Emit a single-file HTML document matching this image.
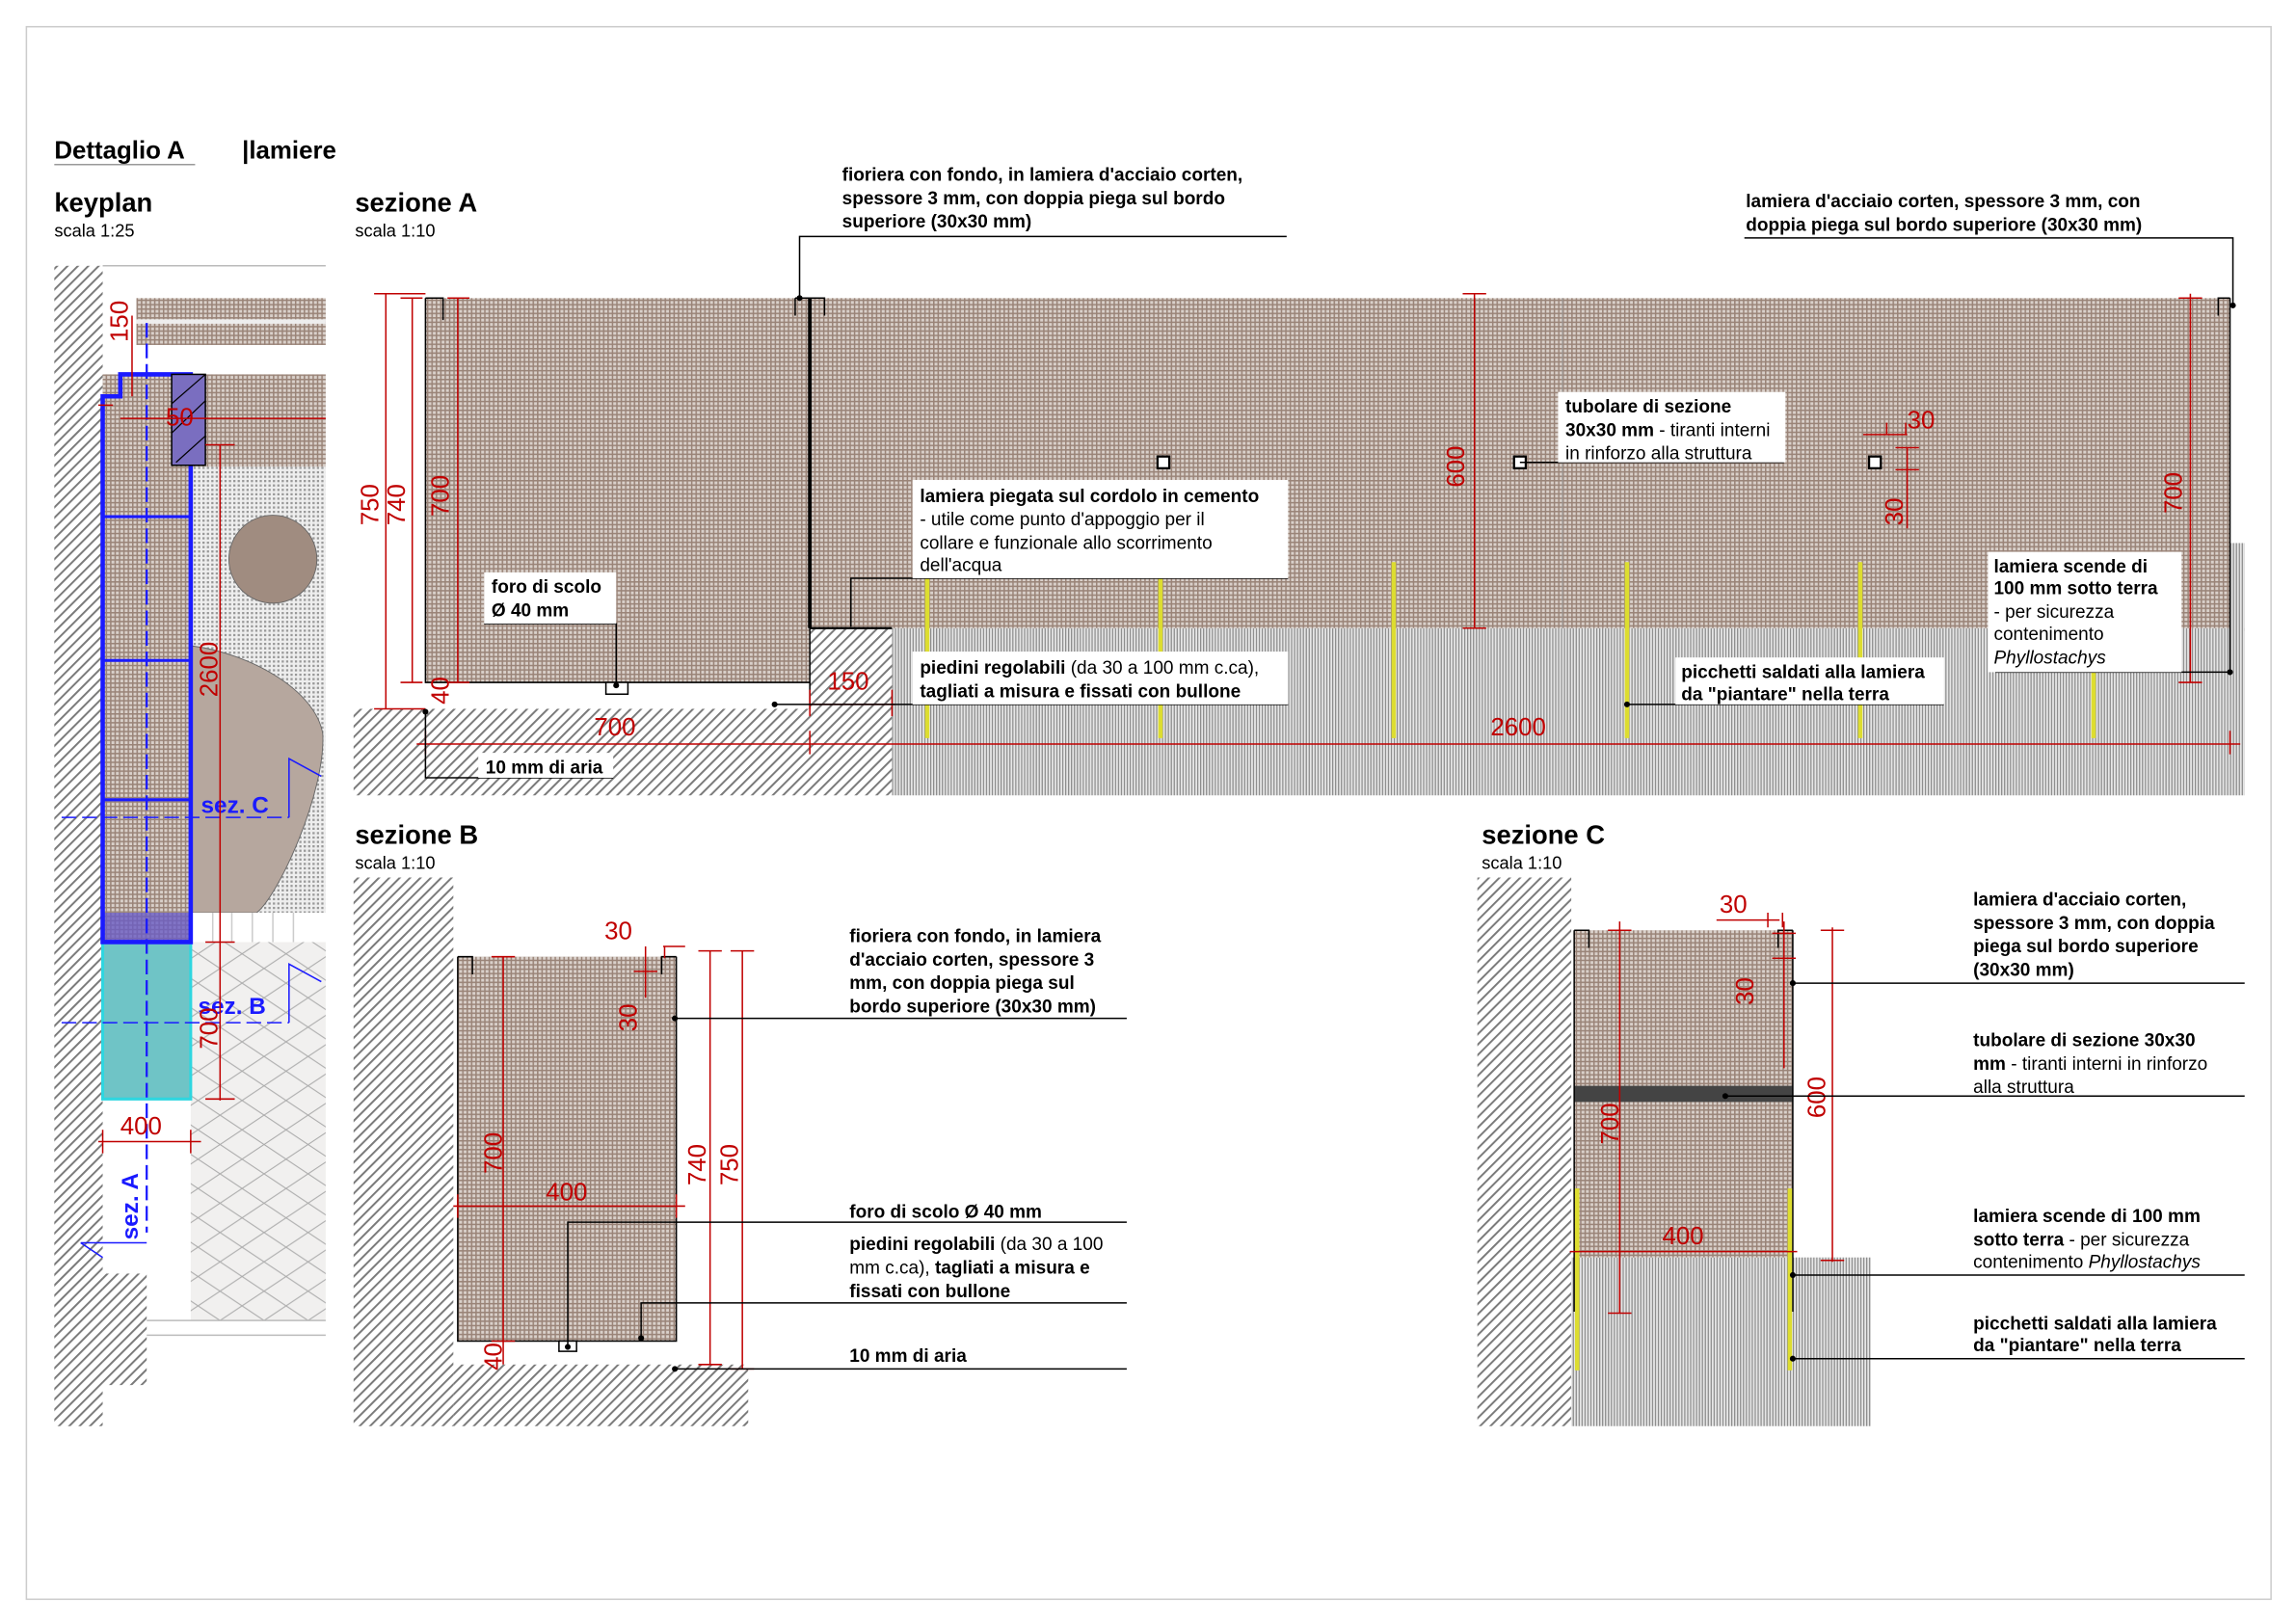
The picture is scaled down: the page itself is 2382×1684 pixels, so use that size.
<!DOCTYPE html>
<html><head><meta charset="utf-8"><style>
html,body{margin:0;padding:0;background:#fff}
svg{display:block}
text{font-family:"Liberation Sans Narrow","Liberation Sans",sans-serif}
.l{font-size:12.5px;fill:#000}
.b{font-weight:bold}
.d{font-family:"Liberation Sans",sans-serif;font-size:17px;fill:#c00000}
.h{font-family:"Liberation Sans",sans-serif;font-size:18px;font-weight:bold}
.s{font-size:12px}
.r{stroke:#c00000;stroke-width:1;fill:none}
.k{stroke:#000;stroke-width:1;fill:none}
</style></head><body>
<svg width="2382" height="1684" viewBox="0 0 1565 1106" xmlns="http://www.w3.org/2000/svg">
<defs>
<pattern id="ct" width="3" height="3" patternUnits="userSpaceOnUse"><rect width="3" height="3" fill="#d9d0ca"/><rect width="3" height="1" fill="#9a8478"/><rect width="1" height="3" fill="#9a8478"/></pattern>
<pattern id="gs" width="2" height="4" patternUnits="userSpaceOnUse"><rect width="2" height="4" fill="#e6e6e6"/><rect width="0.8" height="4" fill="#8a8a8a"/></pattern>
<pattern id="ht" width="5" height="5" patternUnits="userSpaceOnUse" patternTransform="rotate(45)"><rect width="5" height="5" fill="#fff"/><rect width="1.3" height="5" fill="#7a7a7a"/></pattern>
<pattern id="dt" width="3" height="3" patternUnits="userSpaceOnUse"><rect width="3" height="3" fill="#eee"/><rect width="1.5" height="1.5" fill="#999"/></pattern>
<pattern id="tl" width="30" height="20" patternUnits="userSpaceOnUse"><rect width="30" height="20" fill="#f1f0ef"/><path d="M0 0L30 20M30 0L0 20" stroke="#aaa" stroke-width="0.7"/></pattern>
</defs>
<rect x="18" y="18" width="1530" height="1072" fill="none" stroke="#ccc"/>

<text x="37" y="108" class="h" style="font-size:17px">Dettaglio A</text>
<line x1="37" y1="112" x2="133" y2="112" stroke="#999"/>
<text x="165" y="108" class="h" style="font-size:17px">|lamiere</text>
<text x="37" y="144" class="h">keyplan</text><text x="37" y="161" class="l s">scala 1:25</text>
<text x="242" y="144" class="h">sezione A</text><text x="242" y="161" class="l s">scala 1:10</text>
<text x="242" y="575" class="h">sezione B</text><text x="242" y="592" class="l s">scala 1:10</text>
<text x="1010" y="575" class="h">sezione C</text><text x="1010" y="592" class="l s">scala 1:10</text>

<!-- KEYPLAN -->
<rect x="37" y="181" width="33" height="791" fill="url(#ht)"/>
<rect x="70" y="868" width="30" height="76" fill="url(#ht)"/>
<line x1="70" y1="181" x2="222" y2="181" stroke="#bbb"/>
<rect x="93" y="203" width="129" height="32" fill="url(#ct)"/>
<line x1="93" y1="219" x2="222" y2="219" stroke="#eee" stroke-width="3"/>
<rect x="130" y="255" width="92" height="63" fill="url(#ct)"/>
<rect x="130" y="318" width="92" height="304" fill="url(#dt)"/>
<path d="M130 440 C170 445 215 470 220 500 C222 540 190 610 175 622 L130 622Z" fill="#b6a79e" stroke="#666" stroke-width="0.6"/>
<ellipse cx="186" cy="381" rx="30" ry="30" fill="#a08c80" stroke="#666" stroke-width="0.6"/>
<rect x="130" y="642" width="92" height="258" fill="url(#tl)"/>
<rect x="130" y="622" width="92" height="20" fill="#fff"/>
<path d="M145 622v20M158 622v20M172 622v20M186 622v20M200 622v20" stroke="#ccc"/>
<line x1="100" y1="900" x2="222" y2="900" stroke="#bbb"/><line x1="100" y1="910" x2="222" y2="910" stroke="#bbb"/>
<rect x="70" y="255" width="60" height="387" fill="url(#ct)"/>
<rect x="70" y="622" width="60" height="20" fill="#6a5cc4" opacity="0.8"/>
<rect x="70" y="642" width="60" height="107" fill="#6fc4c6"/>
<path d="M70 642h60v107h-60z" fill="none" stroke="#2fd6e0" stroke-width="2"/>
<path d="M70 270h12v-15h48v387h-60z" fill="none" stroke="#1a1aff" stroke-width="3"/>
<path d="M70 352h60M70 450h60M70 545h60" stroke="#1a1aff" stroke-width="2"/>
<rect x="117" y="255" width="23" height="62" fill="#7a6ec0" stroke="#000"/>
<path d="M117 275l23-20M117 295l23-22M120 315l20-18" stroke="#000" stroke-width="0.8"/>
<line x1="100" y1="220" x2="100" y2="840" stroke="#1a1aff" stroke-width="1.5" stroke-dasharray="10 4"/>
<line x1="42" y1="557" x2="197" y2="557" stroke="#1a1aff" stroke-width="1" stroke-dasharray="10 4"/>
<line x1="42" y1="697" x2="197" y2="697" stroke="#1a1aff" stroke-width="1" stroke-dasharray="10 4"/>
<path d="M197 557v-40l22 12M197 697v-40l22 12M55 847h45M55 847l15 10" stroke="#1a1aff" fill="none"/>
<text x="137" y="554" fill="#1a1aff" font-weight="bold" font-size="16" style="font-family:'Liberation Sans',sans-serif">sez. C</text>
<text x="135" y="691" fill="#1a1aff" font-weight="bold" font-size="16" style="font-family:'Liberation Sans',sans-serif">sez. B</text>
<text transform="translate(94,845) rotate(-90)" fill="#1a1aff" font-weight="bold" font-size="16" style="font-family:'Liberation Sans',sans-serif">sez. A</text>
<path d="M150 303v447M140 303h20M140 642h20M140 749h20M90 270v-55M82 285h140M67 276h10M67 778h70M70 770v16M130 770v16" class="r"/>
<text transform="translate(87,233) rotate(-90)" class="d">150</text>
<text transform="translate(148,475) rotate(-90)" class="d">2600</text>
<text transform="translate(148,715) rotate(-90)" class="d">700</text>
<text x="82" y="773" class="d">400</text>
<text x="113" y="290" class="d">50</text>

<!-- SEZIONE A -->
<rect x="241" y="483" width="367" height="59" fill="url(#ht)"/>
<rect x="608" y="428" width="922" height="114" fill="url(#gs)"/>
<rect x="1520" y="370" width="10" height="60" fill="url(#gs)"/>
<rect x="290" y="203" width="262" height="262" fill="url(#ct)"/>
<rect x="552" y="203" width="968" height="225" fill="url(#ct)"/>
<rect x="552" y="428" width="56" height="55" fill="url(#ht)"/>
<line x1="1065" y1="203" x2="1065" y2="428" stroke="#999" stroke-width="0.6"/>
<path d="M290 203v262h262M552 203v280M290 203h12v15M1520 203v257M1520 203h-8v12M542 203h20v12M542 203v12" class="k" stroke-width="1.5"/>
<line x1="552" y1="203" x2="552" y2="428" stroke="#000" stroke-width="2.5"/>
<line x1="552" y1="428" x2="608" y2="428" stroke="#000" stroke-width="1.5"/>
<rect x="413" y="465" width="15" height="8" fill="#fff" stroke="#000"/>
<g stroke="#dddd30" stroke-width="3"><line x1="632" y1="383" x2="632" y2="503"/><line x1="791" y1="383" x2="791" y2="503"/><line x1="950" y1="383" x2="950" y2="503"/><line x1="1109" y1="383" x2="1109" y2="503"/><line x1="1268" y1="383" x2="1268" y2="503"/><line x1="1427" y1="383" x2="1427" y2="503"/></g>
<g fill="#fff" stroke="#000" stroke-width="1.5"><rect x="789" y="311" width="8" height="8"/><rect x="1032" y="311" width="8" height="8"/><rect x="1274" y="311" width="8" height="8"/></g>
<path d="M263 200v283M255 200h35M255 483h35M281 203v262M273 203h15M273 465h15M312 203v262M305 203h15M305 465h15M284 507h1243M290 498v16M552 498v16M1520 498v16M552 480h58M552 470v18M608 470v18M1005 200v228M997 200h16M997 428h16M1493 200v265M1485 203h16M1485 465h16M1270 296h30M1286 288v8M1299 288v8M1300 305v55M1292 305h16M1292 320h16" class="r"/>
<text transform="translate(258,358) rotate(-90)" class="d">750</text>
<text transform="translate(276,358) rotate(-90)" class="d">740</text>
<text transform="translate(306,352) rotate(-90)" class="d">700</text>
<text transform="translate(306,480) rotate(-90)" class="d">40</text>
<text transform="translate(998,332) rotate(-90)" class="d">600</text>
<text transform="translate(1487,350) rotate(-90)" class="d">700</text>
<text transform="translate(1297,358) rotate(-90)" class="d">30</text>
<text x="1300" y="292" class="d">30</text>
<text x="405" y="501" class="d">700</text>
<text x="1016" y="501" class="d">2600</text>
<text x="564" y="470" class="d">150</text>

<!-- labels A -->
<path d="M545 203v-42h332M1522 208v-46h-333M1216 315h-180M580 427v-33h298M420 467v-42h-90M528 480h350M290 485v45h128M1109 480h216M1520 458h-160" class="k"/>
<g fill="#000"><circle cx="545" cy="203" r="2"/><circle cx="1522" cy="208" r="2"/><circle cx="420" cy="467" r="2"/><circle cx="528" cy="480" r="2"/><circle cx="290" cy="485" r="2"/><circle cx="1109" cy="480" r="2"/><circle cx="1520" cy="458" r="2"/></g>
<g fill="#fff"><rect x="330" y="390" width="90" height="35"/><rect x="622" y="327" width="256" height="67"/><rect x="622" y="444" width="256" height="36"/><rect x="1062" y="267" width="155" height="48"/><rect x="1142" y="448" width="183" height="32"/><rect x="1355" y="376" width="132" height="82"/><rect x="326" y="513" width="92" height="17"/></g>
<text class="l b"><tspan x="574" y="123">fioriera con fondo, in lamiera d'acciaio corten,</tspan><tspan x="574" y="139">spessore 3 mm, con doppia piega sul bordo</tspan><tspan x="574" y="155">superiore (30x30 mm)</tspan></text>
<text class="l b"><tspan x="1190" y="141">lamiera d'acciaio corten, spessore 3 mm, con</tspan><tspan x="1190" y="157">doppia piega sul bordo superiore (30x30 mm)</tspan></text>
<text class="l"><tspan x="1067" y="281" font-weight="bold">tubolare di sezione</tspan><tspan x="1067" y="297"><tspan font-weight="bold">30x30 mm</tspan> - tiranti interni</tspan><tspan x="1067" y="313">in rinforzo alla struttura</tspan></text>
<text class="l"><tspan x="627" y="342" font-weight="bold">lamiera piegata sul cordolo in cemento</tspan><tspan x="627" y="358">- utile come punto d'appoggio per il</tspan><tspan x="627" y="374">collare e funzionale allo scorrimento</tspan><tspan x="627" y="389">dell'acqua</tspan></text>
<text class="l b"><tspan x="335" y="404">foro di scolo</tspan><tspan x="335" y="420">Ø 40 mm</tspan></text>
<text class="l"><tspan x="627" y="459"><tspan font-weight="bold">piedini regolabili</tspan> (da 30 a 100 mm c.ca),</tspan><tspan x="627" y="475" font-weight="bold">tagliati a misura e fissati con bullone</tspan></text>
<text class="l b"><tspan x="1146" y="462">picchetti saldati alla lamiera</tspan><tspan x="1146" y="477">da "piantare" nella terra</tspan></text>
<text class="l"><tspan x="1359" y="390" font-weight="bold">lamiera scende di</tspan><tspan x="1359" y="405" font-weight="bold">100 mm sotto terra</tspan><tspan x="1359" y="421">- per sicurezza</tspan><tspan x="1359" y="436">contenimento</tspan><tspan x="1359" y="452" font-style="italic">Phyllostachys</tspan></text>
<text x="331" y="527" class="l b">10 mm di aria</text>

<!-- SEZIONE B -->
<rect x="241" y="598" width="68" height="374" fill="url(#ht)"/>
<rect x="309" y="930" width="201" height="42" fill="url(#ht)"/>
<rect x="312" y="652" width="149" height="262" fill="url(#ct)"/>
<path d="M312 652v262h149V652M312 652h10v12M461 652h-10v12" class="k" stroke-width="1.5"/>
<rect x="381" y="914" width="12" height="7" fill="#fff" stroke="#000"/>
<path d="M343 652v262M335 652h16M335 914h16M309 822h158M312 814v16M461 814v16M452 645h15M440 645v8M453 645v8M440 652v28M432 662h16M484 648v282M476 648h16M476 930h16M506 648v285M498 648h16M498 933h16M343 914v16" class="r"/>
<text transform="translate(342,800) rotate(-90)" class="d">700</text>
<text transform="translate(434,703) rotate(-90)" class="d">30</text>
<text transform="translate(481,808) rotate(-90)" class="d">740</text>
<text transform="translate(503,808) rotate(-90)" class="d">750</text>
<text transform="translate(342,934) rotate(-90)" class="d">40</text>
<text x="372" y="818" class="d">400</text>
<text x="412" y="640" class="d">30</text>
<path d="M460 694h308M387 918v-85h381M437 912v-24h331M460 933h308" class="k"/>
<g fill="#000"><circle cx="460" cy="694" r="2"/><circle cx="387" cy="918" r="2"/><circle cx="437" cy="912" r="2"/><circle cx="460" cy="933" r="2"/></g>
<text class="l b"><tspan x="579" y="642">fioriera con fondo, in lamiera</tspan><tspan x="579" y="658">d'acciaio corten, spessore 3</tspan><tspan x="579" y="674">mm, con doppia piega sul</tspan><tspan x="579" y="690">bordo superiore (30x30 mm)</tspan></text>
<text x="579" y="830" class="l b">foro di scolo Ø 40 mm</text>
<text class="l"><tspan x="579" y="852"><tspan font-weight="bold">piedini regolabili</tspan> (da 30 a 100</tspan><tspan x="579" y="868">mm c.ca), <tspan font-weight="bold">tagliati a misura e</tspan></tspan><tspan x="579" y="884" font-weight="bold">fissati con bullone</tspan></text>
<text x="579" y="928" class="l b">10 mm di aria</text>

<!-- SEZIONE C -->
<rect x="1007" y="598" width="64" height="374" fill="url(#ht)"/>
<rect x="1071" y="857" width="204" height="115" fill="url(#gs)"/>
<rect x="1073" y="634" width="149" height="223" fill="url(#ct)"/>
<rect x="1073" y="740" width="149" height="11" fill="#444"/>
<path d="M1073 634v260M1222 634v260M1073 634h10v12M1222 634h-10v12" class="k" stroke-width="1.5"/>
<line x1="1075" y1="810" x2="1075" y2="934" stroke="#dddd30" stroke-width="3"/>
<line x1="1220" y1="810" x2="1220" y2="934" stroke="#dddd30" stroke-width="3"/>
<path d="M1104 628v267M1096 634h16M1096 895h16M1070 853h155M1216 628v100M1208 636h16M1208 653h16M1170 627h43M1205 622v10M1215 622v10M1249 632v228M1241 634h16M1241 859h16" class="r"/>
<text x="1172" y="622" class="d">30</text>
<text transform="translate(1195,685) rotate(-90)" class="d">30</text>
<text transform="translate(1244,762) rotate(-90)" class="d">600</text>
<text transform="translate(1103,780) rotate(-90)" class="d">700</text>
<text x="1133" y="848" class="d">400</text>
<path d="M1222 670h308M1176 747h354M1222 869h308M1222 926h308" class="k"/>
<g fill="#000"><circle cx="1222" cy="670" r="2"/><circle cx="1176" cy="747" r="2"/><circle cx="1222" cy="869" r="2"/><circle cx="1222" cy="926" r="2"/></g>
<text class="l b"><tspan x="1345" y="617">lamiera d'acciaio corten,</tspan><tspan x="1345" y="633">spessore 3 mm, con doppia</tspan><tspan x="1345" y="649">piega sul bordo superiore</tspan><tspan x="1345" y="665">(30x30 mm)</tspan></text>
<text class="l"><tspan x="1345" y="713" font-weight="bold">tubolare di sezione 30x30</tspan><tspan x="1345" y="729"><tspan font-weight="bold">mm</tspan> - tiranti interni in rinforzo</tspan><tspan x="1345" y="745">alla struttura</tspan></text>
<text class="l"><tspan x="1345" y="833" font-weight="bold">lamiera scende di 100 mm</tspan><tspan x="1345" y="849"><tspan font-weight="bold">sotto terra</tspan> - per sicurezza</tspan><tspan x="1345" y="864">contenimento <tspan font-style="italic">Phyllostachys</tspan></tspan></text>
<text class="l b"><tspan x="1345" y="906">picchetti saldati alla lamiera</tspan><tspan x="1345" y="921">da "piantare" nella terra</tspan></text>
</svg>
</body></html>
